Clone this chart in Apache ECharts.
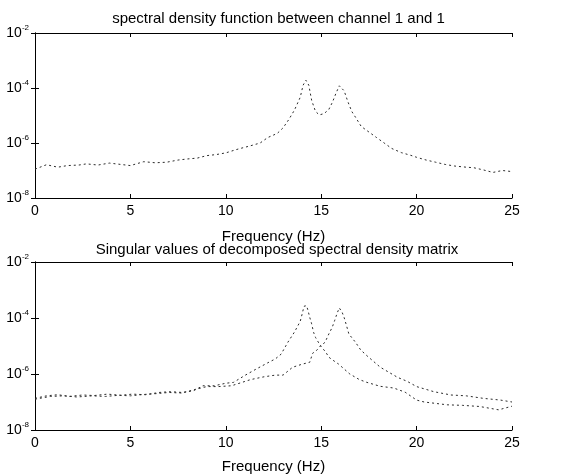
<!DOCTYPE html>
<html>
<head>
<meta charset="utf-8">
<script src="https://cdn.jsdelivr.net/npm/echarts@6/dist/echarts.min.js"></script>
<style>html,body{margin:0;padding:0;background:#fff}#c{width:563px;height:476px}</style>
</head>
<body>
<div id="c"></div>
<script>
// ---- data ----
var titles = ['spectral density function between channel 1 and 1', 'Singular values of decomposed spectral density matrix'];
var xName = 'Frequency (Hz)';
var xTicks = [0, 5, 10, 15, 20, 25];
var yTicks = [1e-8, 1e-6, 1e-4, 1e-2];

var freqTop = [0,0.6,1.2,1.7,2.3,2.7,3.3,3.9,4.5,5.0,5.7,6.3,6.9,7.5,8.0,8.5,9.0,9.5,10.0,10.5,10.75,11.2,11.8,12.2,12.7,13.0,13.3,13.6,13.9,14.05,14.2,14.35,14.5,14.7,14.9,15.15,15.4,15.6,15.78,15.95,16.05,16.2,16.4,16.6,16.85,17.1,17.5,17.9,18.3,18.7,19.2,19.7,20.0,20.5,21.0,21.5,22.0,22.6,23.0,23.5,24.0,24.5,25.0];
var psdTop = [1.12e-7,1.62e-7,1.32e-7,1.51e-7,1.58e-7,1.74e-7,1.58e-7,1.86e-7,1.66e-7,1.51e-7,2.09e-7,1.91e-7,2.0e-7,2.4e-7,2.63e-7,2.82e-7,3.47e-7,3.8e-7,4.37e-7,5.62e-7,6.31e-7,7.59e-7,1.0e-6,1.58e-6,2.24e-6,3.55e-6,7.08e-6,1.58e-5,4.57e-5,1.26e-4,1.91e-4,1.26e-4,3.55e-5,1.41e-5,1.05e-5,1.17e-5,1.66e-5,3.16e-5,6.61e-5,1.2e-4,1.32e-4,7.94e-5,3.16e-5,1.41e-5,7.59e-6,3.98e-6,2.51e-6,1.58e-6,1.0e-6,6.31e-7,4.47e-7,3.55e-7,3.02e-7,2.4e-7,2.0e-7,1.66e-7,1.45e-7,1.32e-7,1.26e-7,1.05e-7,8.51e-8,1.0e-7,9.12e-8];

var freqSv1 = [0,0.6,1.2,1.8,2.5,3.1,3.8,4.5,5.1,5.8,6.5,7.1,7.7,8.3,8.8,9.4,10.0,10.4,11.0,11.6,12.2,12.6,12.9,13.25,13.6,13.9,14.0,14.1,14.23,14.3,14.4,14.5,14.6,14.7,14.88,15.0,15.25,15.4,15.6,15.9,16.5,17.0,17.4,18.1,18.8,19.4,20.0,20.4,21.0,21.6,22.4,23.3,24.3,25.0];
var sv1 = [1.35e-7,1.66e-7,1.82e-7,1.58e-7,1.78e-7,1.7e-7,1.91e-7,1.74e-7,1.91e-7,1.82e-7,2.19e-7,2.34e-7,2.19e-7,2.51e-7,3.8e-7,3.8e-7,4.68e-7,5.01e-7,8.91e-7,1.51e-6,2.51e-6,3.47e-6,5.13e-6,1.35e-5,3.16e-5,7.59e-5,1.38e-4,2.63e-4,2.75e-4,1.95e-4,1.05e-4,6.17e-5,3.09e-5,2.04e-5,1.26e-5,9.55e-6,5.89e-6,3.98e-6,3.16e-6,2.29e-6,1.0e-6,6.31e-7,5.01e-7,3.63e-7,3.16e-7,2.24e-7,1.17e-7,1.0e-7,8.91e-8,7.94e-8,7.59e-8,6.92e-8,5.25e-8,7.08e-8];

var freqSv2 = [0,0.8,1.5,2.2,3.0,3.7,4.4,5.0,5.7,6.4,7.0,7.7,8.4,9.0,9.6,10.3,11.3,12.0,12.6,13.0,13.5,14.0,14.4,14.55,14.74,14.97,15.2,15.4,15.58,15.7,15.85,15.95,16.02,16.1,16.2,16.3,16.45,16.8,17.07,17.4,18.1,18.55,19.0,19.5,20.0,20.9,21.8,22.6,23.5,24.4,25.0];
var sv2 = [1.26e-7,1.58e-7,1.66e-7,1.51e-7,1.66e-7,1.58e-7,1.74e-7,1.66e-7,1.86e-7,2.0e-7,2.19e-7,2.09e-7,2.82e-7,3.55e-7,3.55e-7,3.8e-7,6.31e-7,7.94e-7,9.12e-7,9.12e-7,1.74e-6,2.24e-6,2.63e-6,5.5e-6,6.76e-6,1.02e-5,1.35e-5,2.69e-5,4.68e-5,7.94e-5,1.58e-4,2.29e-4,2.4e-4,1.58e-4,1.05e-4,6.17e-5,2.69e-5,1.35e-5,7.24e-6,4.47e-6,1.74e-6,1.15e-6,7.59e-7,5.5e-7,3.55e-7,2.34e-7,1.78e-7,1.66e-7,1.35e-7,1.17e-7,1.0e-7];

function pairs(xs, ys) { return xs.map(function (x, i) { return [x, ys[i]]; }); }

// ---- chart ----
var FONT = '"Liberation Sans", Arial, Helvetica, sans-serif';
var chart = echarts.init(document.getElementById('c'), null, { renderer: 'canvas' });
var grids = [
  { left: 35, right: 51, top: 33, height: 165 },
  { left: 35, right: 51, top: 262, height: 168 }
];
var xAxes = [], yAxes = [];
[0, 1].forEach(function (g) {
  xAxes.push({
    type: 'value', gridIndex: g, min: xTicks[0], max: xTicks[xTicks.length - 1], interval: 5,
    position: 'bottom',
    name: xName, nameLocation: 'middle', nameGap: g === 0 ? 31 : 29,
    nameTextStyle: { fontFamily: FONT, fontSize: 15, color: '#000' },
    axisLine: { show: true, lineStyle: { color: '#000', width: 1 } },
    axisTick: { show: true, inside: true, length: 4, lineStyle: { color: '#000' } },
    axisLabel: { fontFamily: FONT, fontSize: 14, color: '#000', margin: 6 },
    splitLine: { show: false }
  });
  xAxes.push({
    type: 'value', gridIndex: g, min: 0, max: 25, interval: 5, position: 'top',
    axisLine: { show: true, lineStyle: { color: '#000', width: 1 } },
    axisTick: { show: true, inside: true, length: 4, lineStyle: { color: '#000' } },
    axisLabel: { show: false }, splitLine: { show: false }
  });
  yAxes.push({
    type: 'log', logBase: 10, gridIndex: g, min: yTicks[0], max: yTicks[yTicks.length - 1], interval: 2,
    position: 'left',
    axisLine: { show: true, lineStyle: { color: '#000', width: 1 } },
    axisTick: { show: true, inside: true, length: 4, lineStyle: { color: '#000' } },
    minorTick: { show: false },
    axisLabel: {
      margin: 6,
      formatter: function (v) { var e = Math.round(Math.log10(v)); return '{b|10}{s|' + e + '}'; },
      rich: {
        b: { fontFamily: FONT, fontSize: 14, color: '#000' },
        s: { fontFamily: FONT, fontSize: 8, color: '#000', padding: [0, 0, 10, 0] }
      }
    },
    splitLine: { show: false }
  });
  yAxes.push({
    type: 'log', logBase: 10, gridIndex: g, min: 1e-8, max: 1e-2, interval: 2, position: 'right',
    axisLine: { show: true, lineStyle: { color: '#000', width: 1 } },
    axisTick: { show: true, inside: true, length: 4, lineStyle: { color: '#000' } },
    axisLabel: { show: false }, splitLine: { show: false }
  });
});

var lineStyle = { color: '#2a2a2a', width: 1, type: [2, 3] };
chart.setOption({
  animation: false,
  backgroundColor: '#fff',
  title: [
    { text: titles[0], left: 273.5, top: 6, textAlign: 'center', textStyle: { fontFamily: FONT, fontSize: 15, fontWeight: 'normal', color: '#000' } },
    { text: titles[1], left: 272, top: 237, textAlign: 'center', textStyle: { fontFamily: FONT, fontSize: 15, fontWeight: 'normal', color: '#000' } }
  ],
  grid: grids,
  xAxis: xAxes,
  yAxis: yAxes,
  series: [
    { type: 'line', xAxisIndex: 0, yAxisIndex: 0, data: pairs(freqTop, psdTop), showSymbol: false, lineStyle: lineStyle },
    { type: 'line', xAxisIndex: 2, yAxisIndex: 2, data: pairs(freqSv1, sv1), showSymbol: false, lineStyle: lineStyle },
    { type: 'line', xAxisIndex: 2, yAxisIndex: 2, data: pairs(freqSv2, sv2), showSymbol: false, lineStyle: lineStyle }
  ]
});
</script>
</body>
</html>
